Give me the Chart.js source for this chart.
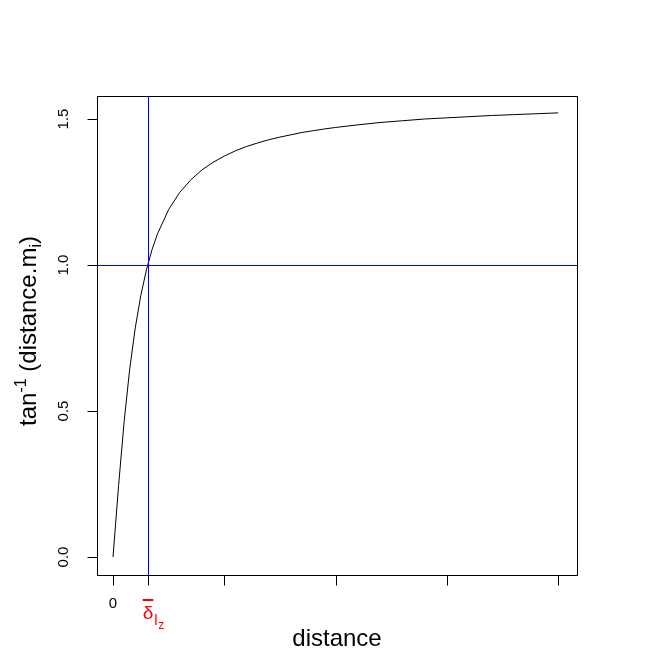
<!DOCTYPE html>
<html>
<head>
<meta charset="utf-8">
<script src="https://cdn.jsdelivr.net/npm/chart.js"></script>
<style>
  html, body { margin: 0; padding: 0; background: #fff; }
  #wrap { width: 672px; height: 671px; }
</style>
</head>
<body>
<div id="wrap"><canvas id="arcChart" width="672" height="671"></canvas></div>
<script>
// distance values and tan^-1(distance.m)
const distance = [0, 0.25, 0.5, 0.75, 1, 1.25, 1.5, 1.75, 2, 2.5, 3, 3.5, 4, 4.5, 5, 5.5, 6, 6.5, 7, 7.5, 8, 8.5, 9, 9.5, 10, 11, 12, 13, 14, 15, 16, 17, 18, 19, 20];
const arcValue = [0, 0.245, 0.464, 0.644, 0.785, 0.896, 0.983, 1.052, 1.107, 1.190, 1.249, 1.292, 1.326, 1.352, 1.373, 1.391, 1.406, 1.418, 1.429, 1.438, 1.446, 1.454, 1.460, 1.466, 1.471, 1.480, 1.488, 1.494, 1.500, 1.504, 1.508, 1.512, 1.515, 1.518, 1.521];

const deltaX = 1.557;     // blue vertical line
const levelY = 1.0;       // blue horizontal line
const xTicks = [0, 5, 10, 15, 20];
const yTicks = [0, 0.5, 1, 1.5];
const yTickLabels = ['0.0', '0.5', '1.0', '1.5'];

const FONT = '"Liberation Sans", Arial, sans-serif';

// draws a row of text pieces (normal / sup / sub) centred at the origin
function drawRuns(ctx, runs) {
    let total = 0;
    runs.forEach(r => {
        ctx.font = r.size + 'px ' + FONT;
        r.w = ctx.measureText(r.text).width;
        total += r.w;
    });
    let x = -total / 2;
    runs.forEach(r => {
        ctx.font = r.size + 'px ' + FONT;
        ctx.fillStyle = r.color || '#000';
        ctx.textAlign = 'left';
        ctx.textBaseline = 'alphabetic';
        ctx.fillText(r.text, x, r.dy || 0);
        x += r.w;
    });
}

const rAxes = {
    id: 'rAxes',
    afterDatasetsDraw(chart) {
        const ctx = chart.ctx;
        const a = chart.chartArea;
        const xs = chart.scales.x, ys = chart.scales.y;
        ctx.save();

        // ab lines, clipped to the plot region
        ctx.save();
        ctx.beginPath();
        ctx.rect(a.left, a.top, a.right - a.left, a.bottom - a.top);
        ctx.clip();
        ctx.fillStyle = '#0000ff';
        const vx = Math.round(xs.getPixelForValue(deltaX));
        const hy = Math.round(ys.getPixelForValue(levelY));
        ctx.fillRect(vx, a.top, 1, a.bottom - a.top);
        ctx.fillRect(a.left, hy, a.right - a.left, 1);
        ctx.restore();

        // box
        ctx.strokeStyle = '#000';
        ctx.lineWidth = 1;
        ctx.strokeRect(Math.round(a.left) + 0.5, Math.round(a.top) + 0.5,
            Math.round(a.right - a.left), Math.round(a.bottom - a.top));

        // x ticks (including the delta tick)
        const bot = Math.round(a.bottom) + 0.5;
        ctx.beginPath();
        xTicks.concat([deltaX]).forEach(v => {
            const px = Math.round(xs.getPixelForValue(v)) + 0.5;
            ctx.moveTo(px, bot); ctx.lineTo(px, bot + 10);
        });
        // y ticks
        const lft = Math.round(a.left) + 0.5;
        yTicks.forEach(v => {
            const py = Math.round(ys.getPixelForValue(v)) + 0.5;
            ctx.moveTo(lft, py); ctx.lineTo(lft - 10, py);
        });
        ctx.stroke();

        // y tick labels, parallel to the axis
        ctx.fillStyle = '#000';
        ctx.font = '15px ' + FONT;
        ctx.textAlign = 'center';
        ctx.textBaseline = 'middle';
        yTicks.forEach((v, i) => {
            ctx.save();
            ctx.translate(64, ys.getPixelForValue(v));
            ctx.rotate(-Math.PI / 2);
            ctx.fillText(yTickLabels[i], 0, 0);
            ctx.restore();
        });

        // x labels: 0 and delta
        ctx.fillText('0', xs.getPixelForValue(0), 604);
        const dx = xs.getPixelForValue(deltaX);
        ctx.fillStyle = '#ff0000';
        ctx.font = '19px ' + FONT;
        ctx.textAlign = 'left';
        ctx.textBaseline = 'alphabetic';
        const dw = ctx.measureText('δ').width;
        const d0 = dx - 5;
        ctx.fillText('δ', d0, 619);
        ctx.fillRect(d0, 599, dw, 2);
        ctx.font = '15px ' + FONT;
        ctx.fillText('l', d0 + dw + 1, 625);
        ctx.font = '12px ' + FONT;
        ctx.fillText('z', d0 + dw + 5, 629);

        // axis titles
        ctx.fillStyle = '#000';
        ctx.font = '24px ' + FONT;
        ctx.textAlign = 'center';
        ctx.textBaseline = 'middle';
        ctx.fillText('distance', (a.left + a.right) / 2, 639);

        ctx.save();
        ctx.translate(36, 331);
        ctx.rotate(-Math.PI / 2);
        drawRuns(ctx, [
            { text: 'tan', size: 24 },
            { text: '-1', size: 16, dy: -10 },
            { text: ' (distance.m', size: 24 },
            { text: 'i', size: 16, dy: 5 },
            { text: ')', size: 24 }
        ]);
        ctx.restore();

        ctx.restore();
    }
};

const ctx1 = document.getElementById('arcChart').getContext('2d');
const arcChart = new Chart(ctx1, {
    type: 'scatter',
    data: {
        datasets: [{
            label: 'atan',
            data: distance.map((d, i) => ({ x: d, y: arcValue[i] })),
            showLine: true,
            borderColor: '#000',
            borderWidth: 1,
            pointRadius: 0,
            tension: 0,
            fill: false
        }]
    },
    options: {
        responsive: false,
        animation: false,
        layout: { padding: { left: 97, right: 95, top: 96, bottom: 96 } },
        plugins: { legend: { display: false }, tooltip: { enabled: false } },
        scales: {
            x: { type: 'linear', display: false, min: -0.72, max: 20.85 },
            y: { type: 'linear', display: false, min: -0.0616, max: 1.5788 }
        }
    },
    plugins: [rAxes]
});
</script>
</body>
</html>
